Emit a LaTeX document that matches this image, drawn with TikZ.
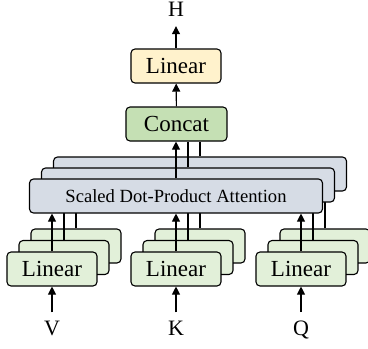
\documentclass[tikz,border=0pt]{standalone}
\usepackage{fontspec}
\setmainfont{Liberation Serif}
\usetikzlibrary{arrows.meta}

\definecolor{lingreen}{HTML}{E2F0D9}
\definecolor{attgrey}{HTML}{D6DCE5}
\definecolor{catgreen}{HTML}{C5E0B4}
\definecolor{outyellow}{HTML}{FFF2CC}

\tikzset{
  blok/.style={draw, line width=1.1pt, rounded corners=4pt, inner sep=0pt, minimum height=34pt},
  lin/.style={blok, fill=lingreen, minimum width=90pt, font=\fontsize{23}{24}\selectfont},
  att/.style={blok, fill=attgrey, minimum width=293pt, font=\fontsize{18.6}{20}\selectfont},
  lbl/.style={inner sep=0pt, font=\fontsize{22}{24}\selectfont},
  arr/.style={line width=1.1pt, -{Triangle[length=8pt,width=8pt]}},
  garis/.style={line width=1.1pt}
}

\begin{document}
\begin{tikzpicture}[x=1pt,y=-1pt]
    \useasboundingbox (0,0) rectangle (368,349);

    % bagian atas: concat, linear, keluaran
    \node[blok, fill=catgreen, minimum width=101pt, font=\fontsize{23}{24}\selectfont] (concat) at (176.5,124) {Concat};
    \node[blok, fill=outyellow, minimum width=90pt, font=\fontsize{23}{24}\selectfont] (out) at (176,66) {Linear};
    \node[lbl, anchor=base] (h) at (176,16) {H};
    \draw[arr] (concat) -- (out);
    \draw[arr, shorten >=10pt] (out.north) -- (h.south);

    % lapisan belakang
    \node[att] (att2) at (200,174) {};
    \node[lin] (v2) at (76,246) {};
    \node[lin] (k2) at (200,246) {};
    \node[lin] (q2) at (325,246) {};
    \draw[garis] (v2.north) -- (v2.north |- att2.south);
    \draw[garis] (k2.north) -- (k2.north |- att2.south);
    \draw[garis] (q2.north) -- (q2.north |- att2.south);
    \draw[garis] (att2.north) -- (att2.north |- concat.south);

    % lapisan tengah
    \node[att] (att1) at (188,185) {};
    \node[lin] (v1) at (64,257.5) {};
    \node[lin] (k1) at (188,257.5) {};
    \node[lin] (q1) at (313,257.5) {};
    \draw[garis] (v1.north) -- (v1.north |- att1.south);
    \draw[garis] (k1.north) -- (k1.north |- att1.south);
    \draw[garis] (q1.north) -- (q1.north |- att1.south);
    \draw[garis] (att1.north) -- (att1.north |- concat.south);

    % lapisan depan
    \node[att] (att0) at (176,196) {Scaled Dot-Product Attention};
    \node[lin] (v0) at (52,269) {Linear};
    \node[lin] (k0) at (176,269) {Linear};
    \node[lin] (q0) at (301,269) {Linear};
    \draw[arr] (v0.north) -- (v0.north |- att0.south);
    \draw[arr] (k0.north) -- (k0.north |- att0.south);
    \draw[arr] (q0.north) -- (q0.north |- att0.south);
    \draw[arr] (att0.north) -- (att0.north |- concat.south);

    % masukan
    \node[lbl, anchor=base] (v) at (52,335) {V};
    \node[lbl, anchor=base] (k) at (176,335) {K};
    \node[lbl, anchor=base] (q) at (301,335) {Q};
    \draw[arr, shorten <=8pt] (v.north) -- (v0.south);
    \draw[arr, shorten <=8pt] (k.north) -- (k0.south);
    \draw[arr, shorten <=8pt] (q.north) -- (q0.south);
\end{tikzpicture}
\end{document}
